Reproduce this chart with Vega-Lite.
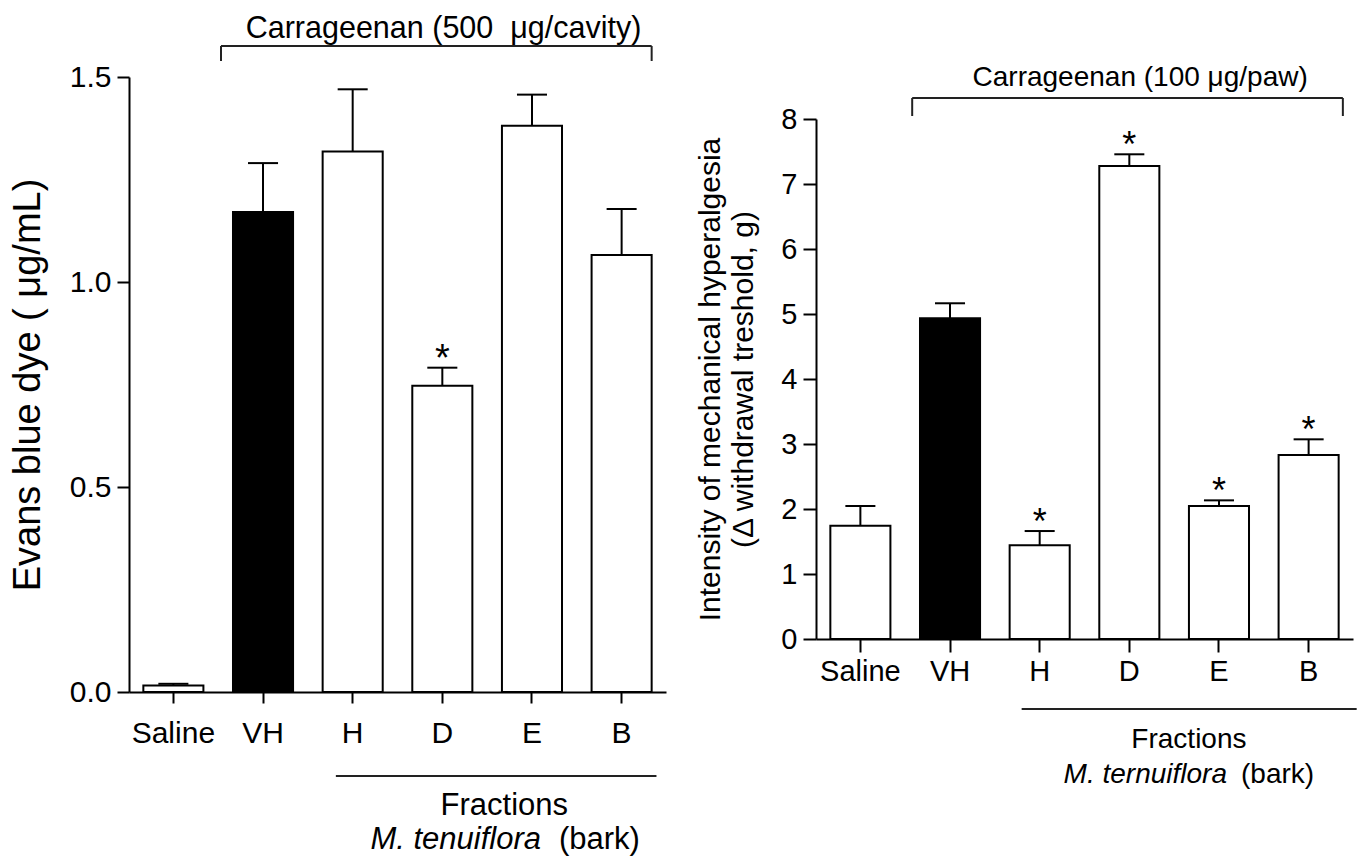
{
  "$schema": "https://vega.github.io/schema/vega-lite/v6.json",
  "background": "white",
  "padding": {"left": 9, "top": 14, "right": 0, "bottom": 0},
  "bounds": "flush",
  "spacing": 150,
  "config": {
    "view": {"stroke": null},
    "font": "Liberation Sans",
    "axis": {
      "domainColor": "black", "domainWidth": 2, "tickColor": "black", "tickWidth": 2,
      "labelColor": "black", "titleColor": "black", "labelFont": "Liberation Sans",
      "titleFont": "Liberation Sans", "titleFontWeight": "normal", "grid": false
    }
  },
  "datasets": {
    "evans": [
      {"group": "Saline", "mean": 0.016, "upper": 0.02, "star": ""},
      {"group": "VH", "mean": 1.171, "upper": 1.29, "star": ""},
      {"group": "H", "mean": 1.318, "upper": 1.47, "star": ""},
      {"group": "D", "mean": 0.747, "upper": 0.791, "star": "*"},
      {"group": "E", "mean": 1.381, "upper": 1.457, "star": ""},
      {"group": "B", "mean": 1.066, "upper": 1.178, "star": ""}
    ],
    "hyper": [
      {"group": "Saline", "mean": 1.744, "upper": 2.046, "star": ""},
      {"group": "VH", "mean": 4.934, "upper": 5.165, "star": ""},
      {"group": "H", "mean": 1.441, "upper": 1.661, "star": "*"},
      {"group": "D", "mean": 7.277, "upper": 7.457, "star": "*"},
      {"group": "E", "mean": 2.046, "upper": 2.133, "star": "*"},
      {"group": "B", "mean": 2.831, "upper": 3.072, "star": "*"}
    ]
  },
  "hconcat": [
    {
      "width": 537,
      "height": 615,
      "layer": [
        {
          "data": {"name": "evans"},
          "mark": {"type": "bar", "stroke": "black", "strokeWidth": 2},
          "encoding": {
            "x": {"field": "group", "type": "nominal",
              "scale": {"domain": ["Saline", "VH", "H", "D", "E", "B"], "paddingInner": 0.33, "paddingOuter": 0.16},
              "axis": {"title": null, "labelAngle": 0, "labelFontSize": 30, "tickSize": 11, "labelPadding": 15}},
            "y": {"field": "mean", "type": "quantitative",
              "scale": {"domain": [0, 1.5], "nice": false},
              "axis": {"title": "Evans blue dye ( μg/mL)", "values": [0, 0.5, 1, 1.5], "format": ".1f",
                "labelFontSize": 30, "tickSize": 12, "labelPadding": 6, "titleFontSize": 38, "titlePadding": 22}},
            "fill": {"condition": {"test": "datum.group === 'VH'", "value": "black"}, "value": "white"}
          }
        },
        {
          "data": {"name": "evans"},
          "mark": {"type": "rule", "color": "black", "strokeWidth": 2},
          "encoding": {
            "x": {"field": "group", "type": "nominal", "scale": {"domain": ["Saline", "VH", "H", "D", "E", "B"]}},
            "y": {"field": "mean", "type": "quantitative"},
            "y2": {"field": "upper"}
          }
        },
        {
          "data": {"name": "evans"},
          "mark": {"type": "rule", "color": "black", "strokeWidth": 2},
          "encoding": {
            "x": {"field": "group", "type": "nominal", "bandPosition": 0.25, "scale": {"domain": ["Saline", "VH", "H", "D", "E", "B"]}},
            "x2": {"field": "group", "bandPosition": 0.75},
            "y": {"field": "upper", "type": "quantitative"}
          }
        },
        {
          "data": {"name": "evans"},
          "transform": [{"filter": "datum.star !== ''"}],
          "mark": {"type": "text", "fontSize": 38, "baseline": "alphabetic", "dy": 3, "color": "black"},
          "encoding": {
            "x": {"field": "group", "type": "nominal", "scale": {"domain": ["Saline", "VH", "H", "D", "E", "B"]}},
            "y": {"field": "upper", "type": "quantitative"},
            "text": {"field": "star"}
          }
        },
        {
          "data": {"values": [{"from": "VH", "to": "B", "level": 1.5756}]},
          "mark": {"type": "rule", "color": "#222", "strokeWidth": 2},
          "encoding": {
            "x": {"field": "from", "type": "nominal", "bandPosition": -0.2, "scale": {"domain": ["Saline", "VH", "H", "D", "E", "B"]}},
            "x2": {"field": "to", "bandPosition": 1.0},
            "y": {"field": "level", "type": "quantitative"}
          }
        },
        {
          "data": {"values": [{"at": "VH", "lo": 1.539, "hi": 1.5756}]},
          "mark": {"type": "rule", "color": "#222", "strokeWidth": 2},
          "encoding": {
            "x": {"field": "at", "type": "nominal", "bandPosition": -0.2, "scale": {"domain": ["Saline", "VH", "H", "D", "E", "B"]}},
            "y": {"field": "lo", "type": "quantitative"},
            "y2": {"field": "hi"}
          }
        },
        {
          "data": {"values": [{"at": "B", "lo": 1.539, "hi": 1.5756}]},
          "mark": {"type": "rule", "color": "#222", "strokeWidth": 2},
          "encoding": {
            "x": {"field": "at", "type": "nominal", "bandPosition": 1.0, "scale": {"domain": ["Saline", "VH", "H", "D", "E", "B"]}},
            "y": {"field": "lo", "type": "quantitative"},
            "y2": {"field": "hi"}
          }
        },
        {
          "data": {"values": [{"at": "D", "level": 1.595, "label": "Carrageenan (500\u00a0 μg/cavity)"}]},
          "mark": {"type": "text", "fontSize": 30.5, "align": "center", "baseline": "alphabetic", "color": "black"},
          "encoding": {
            "x": {"field": "at", "type": "nominal", "bandPosition": 0.52, "scale": {"domain": ["Saline", "VH", "H", "D", "E", "B"]}},
            "y": {"field": "level", "type": "quantitative"},
            "text": {"field": "label"}
          }
        },
        {
          "data": {"values": [{"from": "H", "to": "B", "level": -0.2049}]},
          "mark": {"type": "rule", "color": "#222", "strokeWidth": 2},
          "encoding": {
            "x": {"field": "from", "type": "nominal", "bandPosition": 0.22, "scale": {"domain": ["Saline", "VH", "H", "D", "E", "B"]}},
            "x2": {"field": "to", "bandPosition": 1.08},
            "y": {"field": "level", "type": "quantitative"}
          }
        },
        {
          "data": {"values": [{"at": "E", "level": -0.3, "label": "Fractions"}]},
          "mark": {"type": "text", "fontSize": 31, "align": "center", "baseline": "alphabetic", "color": "black"},
          "encoding": {
            "x": {"field": "at", "type": "nominal", "bandPosition": 0.04, "scale": {"domain": ["Saline", "VH", "H", "D", "E", "B"]}},
            "y": {"field": "level", "type": "quantitative"},
            "text": {"field": "label"}
          }
        },
        {
          "data": {"values": [{"at": "E", "level": -0.383, "label": "M. tenuiflora"}]},
          "mark": {"type": "text", "fontSize": 31, "fontStyle": "italic", "align": "right", "baseline": "alphabetic", "dx": -9, "color": "black"},
          "encoding": {
            "x": {"field": "at", "type": "nominal", "bandPosition": 0.8, "scale": {"domain": ["Saline", "VH", "H", "D", "E", "B"]}},
            "y": {"field": "level", "type": "quantitative"},
            "text": {"field": "label"}
          }
        },
        {
          "data": {"values": [{"at": "E", "level": -0.383, "label": "(bark)"}]},
          "mark": {"type": "text", "fontSize": 31, "align": "left", "baseline": "alphabetic", "dx": 9, "color": "black"},
          "encoding": {
            "x": {"field": "at", "type": "nominal", "bandPosition": 0.8, "scale": {"domain": ["Saline", "VH", "H", "D", "E", "B"]}},
            "y": {"field": "level", "type": "quantitative"},
            "text": {"field": "label"}
          }
        }
      ]
    },
    {
      "width": 537,
      "height": 562,
      "layer": [
        {
          "data": {"name": "hyper"},
          "mark": {"type": "bar", "stroke": "black", "strokeWidth": 2},
          "encoding": {
            "x": {"field": "group", "type": "nominal",
              "scale": {"domain": ["Saline", "VH", "H", "D", "E", "B"], "paddingInner": 0.33, "paddingOuter": 0.16},
              "axis": {"title": null, "labelAngle": 0, "labelFontSize": 29, "tickSize": 13, "labelPadding": 5}},
            "y": {"field": "mean", "type": "quantitative",
              "scale": {"domain": [0, 8], "nice": false, "range": [562, 42]},
              "axis": {"title": ["Intensity of mechanical hyperalgesia", "(Δ withdrawal treshold, g)"],
                "values": [0, 1, 2, 3, 4, 5, 6, 7, 8], "format": "d", "labelFontSize": 29, "tickSize": 13, "labelPadding": 6,
                "titleFontSize": 30, "titleLineHeight": 33, "titlePadding": 22}},
            "fill": {"condition": {"test": "datum.group === 'VH'", "value": "black"}, "value": "white"}
          }
        },
        {
          "data": {"name": "hyper"},
          "mark": {"type": "rule", "color": "black", "strokeWidth": 2},
          "encoding": {
            "x": {"field": "group", "type": "nominal", "scale": {"domain": ["Saline", "VH", "H", "D", "E", "B"]}},
            "y": {"field": "mean", "type": "quantitative"},
            "y2": {"field": "upper"}
          }
        },
        {
          "data": {"name": "hyper"},
          "mark": {"type": "rule", "color": "black", "strokeWidth": 2},
          "encoding": {
            "x": {"field": "group", "type": "nominal", "bandPosition": 0.25, "scale": {"domain": ["Saline", "VH", "H", "D", "E", "B"]}},
            "x2": {"field": "group", "bandPosition": 0.75},
            "y": {"field": "upper", "type": "quantitative"}
          }
        },
        {
          "data": {"name": "hyper"},
          "transform": [{"filter": "datum.star !== ''"}],
          "mark": {"type": "text", "fontSize": 36, "baseline": "alphabetic", "dy": 3, "color": "black"},
          "encoding": {
            "x": {"field": "group", "type": "nominal", "scale": {"domain": ["Saline", "VH", "H", "D", "E", "B"]}},
            "y": {"field": "upper", "type": "quantitative"},
            "text": {"field": "star"}
          }
        },
        {
          "data": {"values": [{"from": "VH", "to": "B", "level": 8.323}]},
          "mark": {"type": "rule", "color": "#222", "strokeWidth": 2},
          "encoding": {
            "x": {"field": "from", "type": "nominal", "bandPosition": -0.13, "scale": {"domain": ["Saline", "VH", "H", "D", "E", "B"]}},
            "x2": {"field": "to", "bandPosition": 1.07},
            "y": {"field": "level", "type": "quantitative"}
          }
        },
        {
          "data": {"values": [{"at": "VH", "lo": 8.046, "hi": 8.323}]},
          "mark": {"type": "rule", "color": "#222", "strokeWidth": 2},
          "encoding": {
            "x": {"field": "at", "type": "nominal", "bandPosition": -0.13, "scale": {"domain": ["Saline", "VH", "H", "D", "E", "B"]}},
            "y": {"field": "lo", "type": "quantitative"},
            "y2": {"field": "hi"}
          }
        },
        {
          "data": {"values": [{"at": "B", "lo": 8.046, "hi": 8.323}]},
          "mark": {"type": "rule", "color": "#222", "strokeWidth": 2},
          "encoding": {
            "x": {"field": "at", "type": "nominal", "bandPosition": 1.07, "scale": {"domain": ["Saline", "VH", "H", "D", "E", "B"]}},
            "y": {"field": "lo", "type": "quantitative"},
            "y2": {"field": "hi"}
          }
        },
        {
          "data": {"values": [{"at": "D", "level": 8.508, "label": "Carrageenan (100 μg/paw)"}]},
          "mark": {"type": "text", "fontSize": 28, "align": "center", "baseline": "alphabetic", "color": "black"},
          "encoding": {
            "x": {"field": "at", "type": "nominal", "bandPosition": 0.68, "scale": {"domain": ["Saline", "VH", "H", "D", "E", "B"]}},
            "y": {"field": "level", "type": "quantitative"},
            "text": {"field": "label"}
          }
        },
        {
          "data": {"values": [{"from": "H", "to": "B", "level": -1.077}]},
          "mark": {"type": "rule", "color": "#222", "strokeWidth": 2},
          "encoding": {
            "x": {"field": "from", "type": "nominal", "bandPosition": 0.2, "scale": {"domain": ["Saline", "VH", "H", "D", "E", "B"]}},
            "x2": {"field": "to", "bandPosition": 1.3},
            "y": {"field": "level", "type": "quantitative"}
          }
        },
        {
          "data": {"values": [{"at": "E", "level": -1.677, "label": "Fractions"}]},
          "mark": {"type": "text", "fontSize": 28, "align": "center", "baseline": "alphabetic", "color": "black"},
          "encoding": {
            "x": {"field": "at", "type": "nominal", "bandPosition": 0.0, "scale": {"domain": ["Saline", "VH", "H", "D", "E", "B"]}},
            "y": {"field": "level", "type": "quantitative"},
            "text": {"field": "label"}
          }
        },
        {
          "data": {"values": [{"at": "E", "level": -2.215, "label": "M. ternuiflora"}]},
          "mark": {"type": "text", "fontSize": 28, "fontStyle": "italic", "align": "right", "baseline": "alphabetic", "dx": -7, "color": "black"},
          "encoding": {
            "x": {"field": "at", "type": "nominal", "bandPosition": 0.75, "scale": {"domain": ["Saline", "VH", "H", "D", "E", "B"]}},
            "y": {"field": "level", "type": "quantitative"},
            "text": {"field": "label"}
          }
        },
        {
          "data": {"values": [{"at": "E", "level": -2.215, "label": "(bark)"}]},
          "mark": {"type": "text", "fontSize": 28, "align": "left", "baseline": "alphabetic", "dx": 7, "color": "black"},
          "encoding": {
            "x": {"field": "at", "type": "nominal", "bandPosition": 0.75, "scale": {"domain": ["Saline", "VH", "H", "D", "E", "B"]}},
            "y": {"field": "level", "type": "quantitative"},
            "text": {"field": "label"}
          }
        }
      ]
    }
  ]
}
